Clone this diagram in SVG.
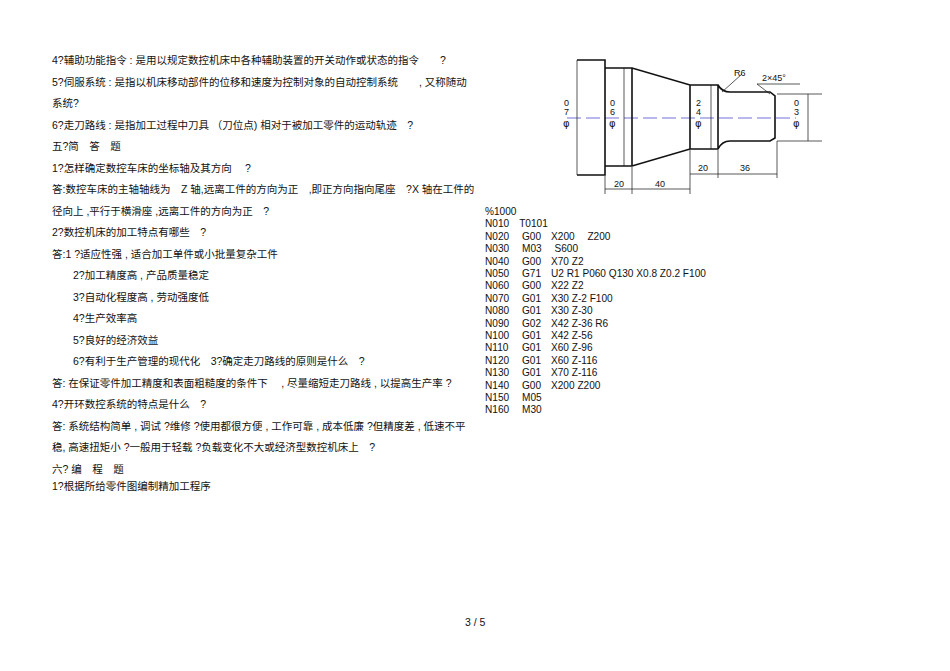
<svg xmlns="http://www.w3.org/2000/svg" width="950" height="671" viewBox="0 0 950 671">
<style>
.t{font-family:"Liberation Sans","Noto Sans CJK SC",sans-serif;font-size:10.5px;fill:#111}
.c{font-family:"Liberation Sans",sans-serif;font-size:10.1px;fill:#111}
.d{font-family:"Liberation Sans",sans-serif;font-size:9px;fill:#111}
.f{font-family:"DejaVu Sans",sans-serif;font-size:10px;fill:#111}
.p{stroke:#111;stroke-width:1.6;fill:none}
.l{stroke:#111;stroke-width:0.7;fill:none}
</style>
<rect width="950" height="671" fill="#fff"/>
<g id="text">
<text class="t" x="52" y="64">4?辅助功能指令 : 是用以规定数控机床中各种辅助装置的开关动作或状态的指令　　?</text>
<text class="t" x="52" y="86">5?伺服系统 : 是指以机床移动部件的位移和速度为控制对象的自动控制系统　　, 又称随动</text>
<text class="t" x="52" y="107">系统?</text>
<text class="t" x="52" y="129">6?走刀路线 : 是指加工过程中刀具 （刀位点) 相对于被加工零件的运动轨迹　?</text>
<text class="t" x="52" y="150">五?简　答　题</text>
<text class="t" x="52" y="172">1?怎样确定数控车床的坐标轴及其方向　 ?</text>
<text class="t" x="52" y="193">答:数控车床的主轴轴线为　Z 轴,远离工件的方向为正　,即正方向指向尾座　?X 轴在工件的</text>
<text class="t" x="52" y="215">径向上 ,平行于横滑座 ,远离工件的方向为正　?</text>
<text class="t" x="52" y="236">2?数控机床的加工特点有哪些　?</text>
<text class="t" x="52" y="258">答:1 ?适应性强 , 适合加工单件或小批量复杂工件</text>
<text class="t" x="73" y="279">2?加工精度高 , 产品质量稳定</text>
<text class="t" x="73" y="301">3?自动化程度高 , 劳动强度低</text>
<text class="t" x="73" y="322">4?生产效率高</text>
<text class="t" x="73" y="344">5?良好的经济效益</text>
<text class="t" x="73" y="365">6?有利于生产管理的现代化　3?确定走刀路线的原则是什么　?</text>
<text class="t" x="52" y="387">答: 在保证零件加工精度和表面粗糙度的条件下　 , 尽量缩短走刀路线 , 以提高生产率 ?</text>
<text class="t" x="52" y="408">4?开环数控系统的特点是什么　?</text>
<text class="t" x="52" y="430">答: 系统结构简单 , 调试 ?维修 ?使用都很方便 , 工作可靠 , 成本低廉 ?但精度差 , 低速不平</text>
<text class="t" x="52" y="451">稳, 高速扭矩小 ?一般用于轻载 ?负载变化不大或经济型数控机床上　?</text>
<text class="t" x="52" y="473">六? 编　程　题</text>
<text class="t" x="52" y="490">1?根据所给零件图编制精加工程序</text>
<text class="t" x="465" y="626">3 / 5</text>
</g>
<g id="code">
<text class="c" x="485" y="215">%1000</text>
<text class="c" x="485" y="227.4">N010　T0101</text>
<text class="c" x="485" y="239.8">N020</text><text class="c" x="522" y="239.8">G00　X200　 Z200</text>
<text class="c" x="485" y="252.2">N030</text><text class="c" x="522" y="252.2">M03　 S600</text>
<text class="c" x="485" y="264.6">N040</text><text class="c" x="522" y="264.6">G00</text><text class="c" x="551" y="264.6">X70 Z2</text>
<text class="c" x="485" y="277">N050</text><text class="c" x="522" y="277">G71</text><text class="c" x="551" y="277">U2 R1 P060 Q130 X0.8 Z0.2 F100</text>
<text class="c" x="485" y="289.4">N060</text><text class="c" x="522" y="289.4">G00</text><text class="c" x="551" y="289.4">X22 Z2</text>
<text class="c" x="485" y="301.8">N070</text><text class="c" x="522" y="301.8">G01</text><text class="c" x="551" y="301.8">X30 Z-2 F100</text>
<text class="c" x="485" y="314.2">N080</text><text class="c" x="522" y="314.2">G01</text><text class="c" x="551" y="314.2">X30 Z-30</text>
<text class="c" x="485" y="326.6">N090</text><text class="c" x="522" y="326.6">G02</text><text class="c" x="551" y="326.6">X42 Z-36 R6</text>
<text class="c" x="485" y="339">N100</text><text class="c" x="522" y="339">G01</text><text class="c" x="551" y="339">X42 Z-56</text>
<text class="c" x="485" y="351.4">N110</text><text class="c" x="522" y="351.4">G01</text><text class="c" x="551" y="351.4">X60 Z-96</text>
<text class="c" x="485" y="363.8">N120</text><text class="c" x="522" y="363.8">G01</text><text class="c" x="551" y="363.8">X60 Z-116</text>
<text class="c" x="485" y="376.2">N130</text><text class="c" x="522" y="376.2">G01</text><text class="c" x="551" y="376.2">X70 Z-116</text>
<text class="c" x="485" y="388.6">N140</text><text class="c" x="522" y="388.6">G00</text><text class="c" x="551" y="388.6">X200 Z200</text>
<text class="c" x="485" y="401">N150</text><text class="c" x="522" y="401">M05</text>
<text class="c" x="485" y="413.4">N160</text><text class="c" x="522" y="413.4">M30</text>
</g>
<g id="part">
<line x1="567" y1="118" x2="796" y2="118" stroke="#33c" stroke-width="0.7" stroke-dasharray="14,5"/>
<path class="p" d="M577 60H605V175H577M605 68H632L690 85H718Q722 92 730 92H770L775 96V138L770 141H730Q722 141 718 149H690L632 166H605M632 68V166M690 85V149M718 85V149"/>
<line class="l" x1="577" y1="60" x2="577" y2="175"/>
<line class="l" x1="624" y1="68" x2="624" y2="166"/>
<line class="l" x1="711" y1="85" x2="711" y2="149"/>
<line class="l" x1="777" y1="94" x2="822" y2="94"/>
<line class="l" x1="777" y1="141" x2="822" y2="141"/>
<line class="l" x1="808" y1="94" x2="808" y2="141"/>
<line class="l" x1="605" y1="176" x2="605" y2="194"/>
<line class="l" x1="632" y1="167" x2="632" y2="194"/>
<line class="l" x1="690" y1="150" x2="690" y2="194"/>
<line class="l" x1="605" y1="189" x2="690" y2="189"/>
<line class="l" x1="718" y1="150" x2="718" y2="178"/>
<line class="l" x1="777" y1="141" x2="777" y2="178"/>
<line class="l" x1="690" y1="174" x2="777" y2="174"/>
<line class="l" x1="722" y1="92" x2="742" y2="74"/>
<line class="l" x1="770" y1="94" x2="757" y2="84"/>
<line class="l" x1="757" y1="84" x2="800" y2="84"/>
<text class="d" x="614" y="187">20</text>
<text class="d" x="655" y="187">40</text>
<text class="d" x="698" y="171">20</text>
<text class="d" x="740" y="171">36</text>
<text class="d" x="762" y="81">2×45°</text>
<text class="d" x="734" y="76">R6</text>
<text class="d" x="564" y="106">0</text><text class="d" x="564" y="115">7</text><text class="f" x="563" y="127">φ</text>
<text class="d" x="610" y="106">0</text><text class="d" x="610" y="115">6</text><text class="f" x="609" y="127">φ</text>
<text class="d" x="696" y="106">2</text><text class="d" x="696" y="115">4</text><text class="f" x="695" y="127">φ</text>
<text class="d" x="794" y="106">0</text><text class="d" x="794" y="115">3</text><text class="f" x="793" y="127">φ</text>
</g>
</svg>
